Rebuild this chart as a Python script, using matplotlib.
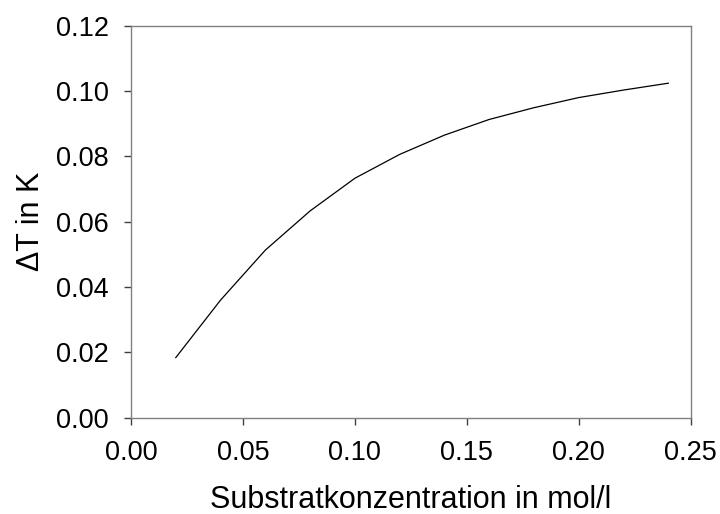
import matplotlib
matplotlib.use("Agg")
import matplotlib.pyplot as plt

conc = [0.02, 0.04, 0.06, 0.08, 0.10, 0.12, 0.14, 0.16, 0.18, 0.20, 0.22, 0.24]
delta_t = [0.0184, 0.0360, 0.0513, 0.0633, 0.0733, 0.0806, 0.0865, 0.0913, 0.0949, 0.0980, 0.1003, 0.1024]
xticks = [0.00, 0.05, 0.10, 0.15, 0.20, 0.25]
yticks = [0.00, 0.02, 0.04, 0.06, 0.08, 0.10, 0.12]

plt.rcParams['font.family'] = ['Liberation Sans', 'DejaVu Sans']

fig = plt.figure(figsize=(7.2, 5.14), dpi=100)
ax = fig.add_axes([131/720, 1 - 417.7/514, (690.7-131)/720, (417.7-25.7)/514])
ax.plot(conc, delta_t, color='black', linewidth=0.9)
ax.set_xlim(0, 0.25)
ax.set_ylim(0, 0.12)
ax.set_xticks(xticks)
ax.set_xticklabels([f"{v:.2f}" for v in xticks])
ax.set_yticks(yticks)
ax.set_yticklabels([f"{v:.2f}" for v in yticks])
for s in ax.spines.values():
    s.set_color('#808080')
    s.set_linewidth(1.0)
ax.tick_params(direction='out', length=5, width=1, color='#404040', labelsize=19.5)
ax.tick_params(axis='x', pad=11)
ax.tick_params(axis='y', pad=11)
ax.set_xlabel("Substratkonzentration in mol/l", fontsize=22, labelpad=14)
ax.set_ylabel("ΔT in K", fontsize=22, labelpad=7)
fig.savefig("out.png", dpi=100)
